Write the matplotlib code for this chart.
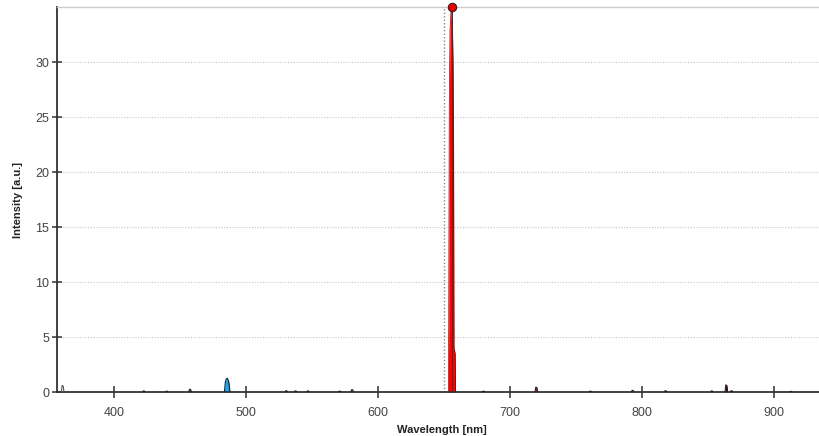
import matplotlib
matplotlib.use("Agg")
import matplotlib.pyplot as plt

plt.rcParams["font.family"] = ["Liberation Sans", "DejaVu Sans"]

# H-alpha profile (explicit samples)
ha_wl = [653.3, 653.6, 654.0, 654.6, 655.3, 655.8, 656.3, 656.9, 657.3, 657.6, 658.0, 658.5, 658.8]
ha_int = [0.0, 6.0, 26.0, 33.0, 34.5, 35.0, 34.0, 30.0, 22.0, 4.0, 3.8, 3.5, 0.0]

# H-beta profile
hb_wl = [483.6, 484.3, 485.0, 485.7, 486.4, 487.1, 487.8]
hb_int = [0.0, 0.9, 1.2, 1.25, 1.1, 0.8, 0.0]

# weak lines
weak_wl = [361.0, 422.5, 440.0, 457.5, 530.5, 537.5, 547.0, 571.0, 580.5,
           680.0, 720.0, 761.0, 793.0, 818.0, 853.0, 864.0, 868.0, 913.0]
weak_int = [0.6, 0.1, 0.08, 0.25, 0.12, 0.1, 0.1, 0.08, 0.22,
            0.08, 0.45, 0.08, 0.15, 0.12, 0.1, 0.65, 0.12, 0.06]
weak_col = ["white", "#8a00b0", "#3040ff", "#0010d0", "#00a020", "#10b020", "#30b020", "#90c000", "#c0c000",
            "#e00000", "#e00000", "#d00000", "#d00000", "#c00000", "#900000", "#400000", "#600000", "#600000"]

x_ticks = [400, 500, 600, 700, 800, 900]
y_ticks = [0, 5, 10, 15, 20, 25, 30]
marker_line = 650.0

fig = plt.figure(figsize=(8.2, 4.36), dpi=100)
ax = fig.add_axes([0.0695, 0.1009, 0.9305, 0.8830])

ax.set_xlim(356.7, 935)
ax.set_ylim(0, 35)

ax.axvline(marker_line, color="#888888", ls=(0, (1, 1.5)), lw=1.0, zorder=1)

for wl, h, c in zip(weak_wl, weak_int, weak_col):
    xs = [wl - 1.0, wl - 0.4, wl + 0.4, wl + 1.0]
    ys = [0, h, h * 0.9, 0]
    ax.fill_between(xs, ys, color=c, zorder=2, lw=0)
    ax.plot(xs, ys, color="#222222" if c != "white" else "#555555", lw=0.8, zorder=3)

ax.fill_between(hb_wl, hb_int, color="#1ca6e8", lw=0, zorder=2)
ax.plot(hb_wl, hb_int, color="#102040", lw=0.8, zorder=3)

ax.fill_between(ha_wl, ha_int, color="#ff0000", lw=0, zorder=2)
ax.plot(ha_wl, ha_int, color="#800000", lw=0.5, zorder=3)
imax = ha_int.index(max(ha_int))
ax.plot([ha_wl[imax], ha_wl[imax]], [0, ha_int[imax]], color="#333333", lw=0.6, zorder=4)
ax.plot([ha_wl[imax]], [ha_int[imax]], "o", color="#ee0000", mec="#222222", ms=6, mew=0.8,
        zorder=5, clip_on=False)

ax.set_xticks(x_ticks)
ax.set_yticks(y_ticks)
ax.yaxis.grid(True, color="#c8c8c8", ls=(0, (1, 1.5)), lw=0.8)
ax.set_axisbelow(True)

ax.spines["right"].set_visible(False)
ax.spines["top"].set_color("#cccccc")
ax.spines["top"].set_linewidth(1.0)
ax.spines["left"].set_color("#333333")
ax.spines["bottom"].set_color("#333333")
ax.spines["left"].set_linewidth(1.3)
ax.spines["bottom"].set_linewidth(1.3)

ax.tick_params(axis="both", direction="inout", length=9, width=1.1, colors="#333333",
               labelsize=9, labelcolor="#444444")
ax.tick_params(axis="y", length=7, pad=2)
ax.tick_params(axis="x", pad=6)

ax.set_xlabel("Wavelength [nm]", fontsize=8, fontweight="bold", color="#222222")
ax.set_ylabel("Intensity [a.u.]", fontsize=8, fontweight="bold", color="#222222")
ax.xaxis.set_label_coords(0.505, -0.085)
ax.yaxis.set_label_coords(-0.045, 0.5)

fig.savefig("out.png", dpi=100)
